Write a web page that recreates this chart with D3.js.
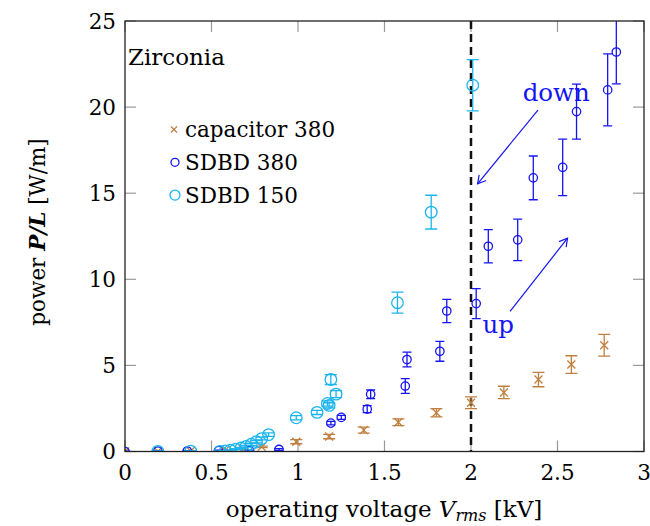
<!DOCTYPE html>
<html>
<head>
<meta charset="utf-8">
<script src="https://cdn.jsdelivr.net/npm/d3@7"></script>
<style>
  html, body { margin: 0; padding: 0; background: #fff; }
  text { font-family: "DejaVu Serif", serif; }
</style>
</head>
<body>
<div id="chart"></div>
<script>
// capacitor 380
const capV = [0, 0.19, 0.38, 0.58, 0.68, 0.79, 0.99, 1.18, 1.38, 1.58, 1.80, 2.00, 2.19, 2.39, 2.58, 2.77];
const capP = [0, 0.01, 0.03, 0.08, 0.15, 0.27, 0.57, 0.87, 1.24, 1.70, 2.25, 2.83, 3.43, 4.18, 5.05, 6.17];
const capErr = [0.01, 0.01, 0.01, 0.02, 0.03, 0.04, 0.12, 0.13, 0.17, 0.2, 0.24, 0.34, 0.36, 0.42, 0.51, 0.63];

// SDBD 380
const s380V = [0, 0.19, 0.36, 0.54, 0.72, 0.89, 1.19, 1.25, 1.40, 1.42, 1.62, 1.63, 1.82, 1.86, 2.03, 2.10, 2.27, 2.36, 2.53, 2.61, 2.79, 2.84];
const s380P = [0, 0.02, 0.03, 0.05, 0.05, 0.12, 1.65, 1.98, 2.46, 3.32, 3.8, 5.34, 5.82, 8.16, 8.59, 11.92, 12.29, 15.89, 16.5, 19.74, 21.0, 23.2];
const s380Err = [0.02, 0.02, 0.02, 0.03, 0.03, 0.05, 0.1, 0.12, 0.2, 0.25, 0.43, 0.43, 0.58, 0.68, 0.87, 0.97, 1.2, 1.27, 1.64, 1.6, 2.09, 1.85];

// SDBD 150
const s150V = [0.19, 0.38, 0.55, 0.58, 0.61, 0.64, 0.67, 0.70, 0.73, 0.76, 0.79, 0.83, 0.99, 1.11, 1.17, 1.18, 1.19, 1.22, 1.575, 1.77, 2.01];
const s150P = [0.01, 0.02, 0.0, 0.03, 0.07, 0.13, 0.2, 0.3, 0.42, 0.57, 0.75, 0.98, 1.96, 2.27, 2.79, 2.68, 4.18, 3.33, 8.64, 13.9, 21.27];
const s150Err = [0.02, 0.02, 0.02, 0.02, 0.03, 0.03, 0.04, 0.05, 0.06, 0.07, 0.08, 0.1, 0.12, 0.12, 0.15, 0.15, 0.29, 0.2, 0.61, 0.98, 1.49];

// ticks
const xTicks = [0, 0.5, 1, 1.5, 2, 2.5, 3];
const yTicks = [0, 5, 10, 15, 20, 25];

// annotations (data coordinates)
const arrowNames = ["down", "up"];
const arrowFrom = [[2.387, 19.83], [2.226, 8.14]];
const arrowTo = [[2.038, 15.54], [2.558, 12.39]];
const arrowTextAt = [[2.493, 20.36], [2.157, 6.87]];
const thresholdV = 2;

const width = 650, height = 526;
const margin = { left: 125, top: 21, right: 6, bottom: 74.5 };

const colors = { cap: "#bf7f3f", s380: "#1414f5", s150: "#1cb4ee" };

const svg = d3.select("#chart")
  .append("svg")
  .attr("width", width)
  .attr("height", height);

const x = d3.scaleLinear().domain([0, 3]).range([margin.left, width - margin.right]);
const y = d3.scaleLinear().domain([0, 25]).range([height - margin.bottom, margin.top]);

svg.append("defs").append("clipPath").attr("id", "clip")
  .append("rect")
  .attr("x", x(0)).attr("y", y(25))
  .attr("width", x(3) - x(0)).attr("height", y(0) - y(25));

// ticks (inward, mirrored)
const tickLen = 11;
const tickColor = "#9a9a9a";
const ticks = svg.append("g");
xTicks.forEach(function (t) {
  ticks.append("line").attr("x1", x(t)).attr("x2", x(t))
    .attr("y1", y(0)).attr("y2", y(0) - tickLen)
    .attr("stroke", tickColor).attr("stroke-width", 1.2);
  ticks.append("line").attr("x1", x(t)).attr("x2", x(t))
    .attr("y1", y(25)).attr("y2", y(25) + tickLen)
    .attr("stroke", tickColor).attr("stroke-width", 1.2);
});
yTicks.forEach(function (t) {
  ticks.append("line").attr("x1", x(0)).attr("x2", x(0) + tickLen)
    .attr("y1", y(t)).attr("y2", y(t))
    .attr("stroke", tickColor).attr("stroke-width", 1.2);
  ticks.append("line").attr("x1", x(3)).attr("x2", x(3) - tickLen)
    .attr("y1", y(t)).attr("y2", y(t))
    .attr("stroke", tickColor).attr("stroke-width", 1.2);
});

// tick labels
svg.selectAll(".xlab")
  .data(xTicks)
  .enter()
  .append("text")
  .attr("x", function (d) { return x(d); })
  .attr("y", 480)
  .attr("text-anchor", "middle")
  .style("font-size", "21.5px")
  .text(function (d) { return d; });

svg.selectAll(".ylab")
  .data(yTicks)
  .enter()
  .append("text")
  .attr("x", 116)
  .attr("y", function (d) { return y(d) + 7.5; })
  .attr("text-anchor", "end")
  .style("font-size", "21.5px")
  .text(function (d) { return d; });

// dashed line at 2 kV
svg.append("line")
  .attr("x1", x(thresholdV)).attr("x2", x(thresholdV))
  .attr("y1", y(25)).attr("y2", y(0))
  .attr("stroke", "#111")
  .attr("stroke-width", 2.5)
  .attr("stroke-dasharray", "8,5");

const plot = svg.append("g").attr("clip-path", "url(#clip)");

function errorBars(V, P, E, color, cap) {
  const g = plot.append("g").attr("stroke", color).attr("stroke-width", 1.3).attr("fill", "none");
  V.forEach(function (v, i) {
    const cx = x(v), top = y(P[i] + E[i]), bot = y(P[i] - E[i]);
    g.append("line").attr("x1", cx).attr("x2", cx).attr("y1", top).attr("y2", bot);
    g.append("line").attr("x1", cx - cap).attr("x2", cx + cap).attr("y1", top).attr("y2", top);
    g.append("line").attr("x1", cx - cap).attr("x2", cx + cap).attr("y1", bot).attr("y2", bot);
  });
}

// capacitor 380
errorBars(capV, capP, capErr, colors.cap, 6);
const crossPath = "M-4,-4L4,4M-4,4L4,-4";
plot.append("g").selectAll("path")
  .data(capV)
  .enter()
  .append("path")
  .attr("d", crossPath)
  .attr("transform", function (d, i) { return "translate(" + x(d) + "," + y(capP[i]) + ")"; })
  .attr("stroke", colors.cap)
  .attr("stroke-width", 1.3)
  .attr("fill", "none");

// SDBD 380
errorBars(s380V, s380P, s380Err, colors.s380, 4.5);
plot.append("g").selectAll("circle")
  .data(s380V)
  .enter()
  .append("circle")
  .attr("cx", function (d) { return x(d); })
  .attr("cy", function (d, i) { return y(s380P[i]); })
  .attr("r", 4.2)
  .attr("stroke", colors.s380)
  .attr("stroke-width", 1.3)
  .attr("fill", "none");

// SDBD 150
errorBars(s150V, s150P, s150Err, colors.s150, 6);
plot.append("g").selectAll("circle")
  .data(s150V)
  .enter()
  .append("circle")
  .attr("cx", function (d) { return x(d); })
  .attr("cy", function (d, i) { return y(s150P[i]); })
  .attr("r", 5.8)
  .attr("stroke", colors.s150)
  .attr("stroke-width", 1.3)
  .attr("fill", "none");

// frame
svg.append("rect")
  .attr("x", x(0)).attr("y", y(25))
  .attr("width", x(3) - x(0)).attr("height", y(0) - y(25))
  .attr("fill", "none")
  .attr("stroke", "#222")
  .attr("stroke-width", 1.3);

// arrows
svg.select("defs").append("marker")
  .attr("id", "head")
  .attr("viewBox", "-10 -6 12 12")
  .attr("markerWidth", 12).attr("markerHeight", 12)
  .attr("markerUnits", "userSpaceOnUse")
  .attr("orient", "auto")
  .append("path")
  .attr("d", "M-8,-4.5L0,0L-8,4.5")
  .attr("fill", "none")
  .attr("stroke", colors.s380)
  .attr("stroke-width", 1.2);

arrowNames.forEach(function (name, i) {
  svg.append("line")
    .attr("x1", x(arrowFrom[i][0])).attr("y1", y(arrowFrom[i][1]))
    .attr("x2", x(arrowTo[i][0])).attr("y2", y(arrowTo[i][1]))
    .attr("stroke", colors.s380)
    .attr("stroke-width", 1.2)
    .attr("marker-end", "url(#head)");
  svg.append("text")
    .attr("x", x(arrowTextAt[i][0]))
    .attr("y", y(arrowTextAt[i][1]))
    .attr("text-anchor", "middle")
    .style("font-size", "24.5px")
    .style("fill", colors.s380)
    .text(name);
});

// Zirconia label
svg.append("text")
  .attr("x", 128)
  .attr("y", 65)
  .style("font-size", "23px")
  .text("Zirconia");

// legend
const legendNames = ["capacitor 380", "SDBD 380", "SDBD 150"];
const legendColors = [colors.cap, colors.s380, colors.s150];
const legend = svg.append("g");
legendNames.forEach(function (name, i) {
  const cy = 129.5 + i * 32.8;
  if (i === 0) {
    legend.append("path")
      .attr("d", "M-3,-3L3,3M-3,3L3,-3")
      .attr("transform", "translate(174," + cy + ")")
      .attr("stroke", legendColors[i]).attr("stroke-width", 1.2);
  } else {
    legend.append("circle")
      .attr("cx", 175).attr("cy", cy)
      .attr("r", i === 1 ? 4 : 5)
      .attr("stroke", legendColors[i]).attr("stroke-width", 1.3)
      .attr("fill", "none");
  }
  legend.append("text")
    .attr("x", 185)
    .attr("y", cy + 7.5)
    .style("font-size", "21.5px")
    .text(name);
});

// axis labels
const xl = svg.append("text")
  .attr("x", 384)
  .attr("y", 517)
  .attr("text-anchor", "middle")
  .style("font-size", "23px");
xl.append("tspan").text("operating voltage ");
xl.append("tspan").style("font-style", "italic").text("V");
xl.append("tspan").style("font-style", "italic").style("font-size", "16px").attr("dy", 4).text("rms");
xl.append("tspan").attr("dy", -4).text(" [kV]");

const yl = svg.append("text")
  .attr("transform", "translate(45,232) rotate(-90)")
  .attr("text-anchor", "middle")
  .style("font-size", "21.5px");
yl.append("tspan").text("power ");
yl.append("tspan").style("font-style", "italic").style("font-weight", "bold").text("P/L");
yl.append("tspan").text(" [W/m]");
</script>
</body>
</html>
